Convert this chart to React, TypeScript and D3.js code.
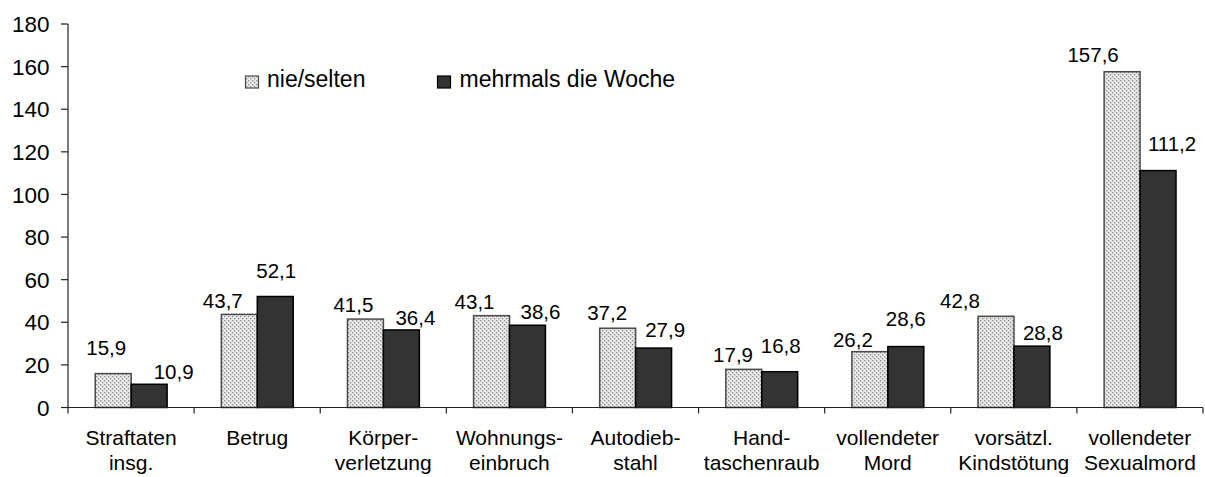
import React, { useEffect } from "react";
import * as d3 from "d3";

const categories: string[][] = [
  ["Straftaten", "insg."],
  ["Betrug", ""],
  ["Körper-", "verletzung"],
  ["Wohnungs-", "einbruch"],
  ["Autodieb-", "stahl"],
  ["Hand-", "taschenraub"],
  ["vollendeter", "Mord"],
  ["vorsätzl.", "Kindstötung"],
  ["vollendeter", "Sexualmord"],
];
const seriesNames = ["nie/selten", "mehrmals die Woche"];
const nieSelten = [15.9, 43.7, 41.5, 43.1, 37.2, 17.9, 26.2, 42.8, 157.6];
const mehrmals = [10.9, 52.1, 36.4, 38.6, 27.9, 16.8, 28.6, 28.8, 111.2];
const yTicks = [0, 20, 40, 60, 80, 100, 120, 140, 160, 180];

// label nudges (px) relative to the bar top-centre, as placed in the original
const labelDxA = [-7, -16.5, -12, -17, -10.5, -10.7, -17, -36, -29];
const labelDyA = [18.6, 6.7, 6.7, 6.7, 8, 7, 5, 8, 9.4];
const labelDxB = [24.5, 1, 14, 13, 11.5, 1, 0, 11, 14];
const labelDyB = [5, 18.3, 5, 6.3, 11, 18.7, 21, 5.7, 20];

const W = 1205;
const H = 477;
const left = 68;
const right = 1203;
const top = 24;
const bottom = 407.5;
const FONT = "'Liberation Sans', Arial, sans-serif";

export default function App() {
  useEffect(() => {
    document.body.style.margin = "0";
  }, []);

  const idx = categories.map((_, i) => String(i));
  const x0 = d3.scaleBand<string>().domain(idx).range([left, right]).padding(0);
  const bw = x0.bandwidth();
  const x1 = d3
    .scaleBand<string>()
    .domain(["a", "b"])
    .range([bw * 0.216, bw * 0.786])
    .padding(0);
  const y = d3.scaleLinear().domain([0, 180]).range([bottom, top]);
  const fmt = (v: number) => v.toFixed(1).replace(".", ",");

  const series = [
    { key: "a", values: nieSelten, dx: labelDxA, dy: labelDyA, fill: "url(#dots)", stroke: "#4a4a4a" },
    { key: "b", values: mehrmals, dx: labelDxB, dy: labelDyB, fill: "#333333", stroke: "#000000" },
  ];

  return (
    <svg
      width={W}
      height={H}
      style={{ position: "absolute", left: 0, top: 0, background: "#fff" }}
      fontFamily={FONT}
    >
      <defs>
        <pattern id="dots" width="4" height="4" patternUnits="userSpaceOnUse">
          <rect width="4" height="4" fill="#e8e8e8" />
          <rect x="0" y="0" width="1.3" height="1.3" fill="#8a8a8a" />
          <rect x="2" y="2" width="1.3" height="1.3" fill="#8a8a8a" />
        </pattern>
      </defs>

      {/* bars */}
      {series.map((s) =>
        s.values.map((v, i) => {
          const bx = (x0(String(i)) ?? 0) + (x1(s.key) ?? 0);
          const by = y(v);
          return (
            <rect
              key={s.key + i}
              x={bx}
              y={by}
              width={x1.bandwidth()}
              height={bottom - by}
              fill={s.fill}
              stroke={s.stroke}
              strokeWidth={1.5}
            />
          );
        })
      )}

      {/* value labels */}
      {series.map((s) =>
        s.values.map((v, i) => {
          const cx = (x0(String(i)) ?? 0) + (x1(s.key) ?? 0) + x1.bandwidth() / 2;
          return (
            <text
              key={"l" + s.key + i}
              x={cx + s.dx[i]}
              y={y(v) - s.dy[i]}
              textAnchor="middle"
              fontSize={20.5}
              fill="#000"
            >
              {fmt(v)}
            </text>
          );
        })
      )}

      {/* y axis */}
      <line x1={left} x2={left} y1={top} y2={bottom} stroke="#222" strokeWidth={1.2} />
      {yTicks.map((t) => (
        <g key={"yt" + t}>
          <line x1={left - 7} x2={left} y1={y(t)} y2={y(t)} stroke="#222" strokeWidth={1.2} />
          <text x={49.5} y={y(t)} dy="0.36em" textAnchor="end" fontSize={22.5} fill="#000">
            {t}
          </text>
        </g>
      ))}

      {/* x axis */}
      <line x1={left} x2={right} y1={bottom} y2={bottom} stroke="#222" strokeWidth={1.2} />
      {idx.concat([String(categories.length)]).map((k, i) => {
        const tx = i < categories.length ? x0(k) ?? 0 : right;
        return (
          <line key={"xt" + i} x1={tx} x2={tx} y1={bottom} y2={bottom + 6} stroke="#222" strokeWidth={1.2} />
        );
      })}
      {categories.map((c, i) => {
        const cx = (x0(String(i)) ?? 0) + bw / 2;
        return (
          <text key={"c" + i} x={cx} textAnchor="middle" fontSize={21} fill="#000">
            <tspan x={cx} y={445}>
              {c[0]}
            </tspan>
            <tspan x={cx} y={470}>
              {c[1]}
            </tspan>
          </text>
        );
      })}

      {/* legend */}
      <rect x={245.5} y={76} width={13} height={12} fill="url(#dots)" stroke="#4a4a4a" strokeWidth={1.2} />
      <text x={267} y={87} fontSize={23} fill="#000">
        {seriesNames[0]}
      </text>
      <rect x={437.5} y={76} width={13} height={12} fill="#333" stroke="#000" strokeWidth={1.2} />
      <text x={459.5} y={87} fontSize={23} fill="#000">
        {seriesNames[1]}
      </text>
    </svg>
  );
}
